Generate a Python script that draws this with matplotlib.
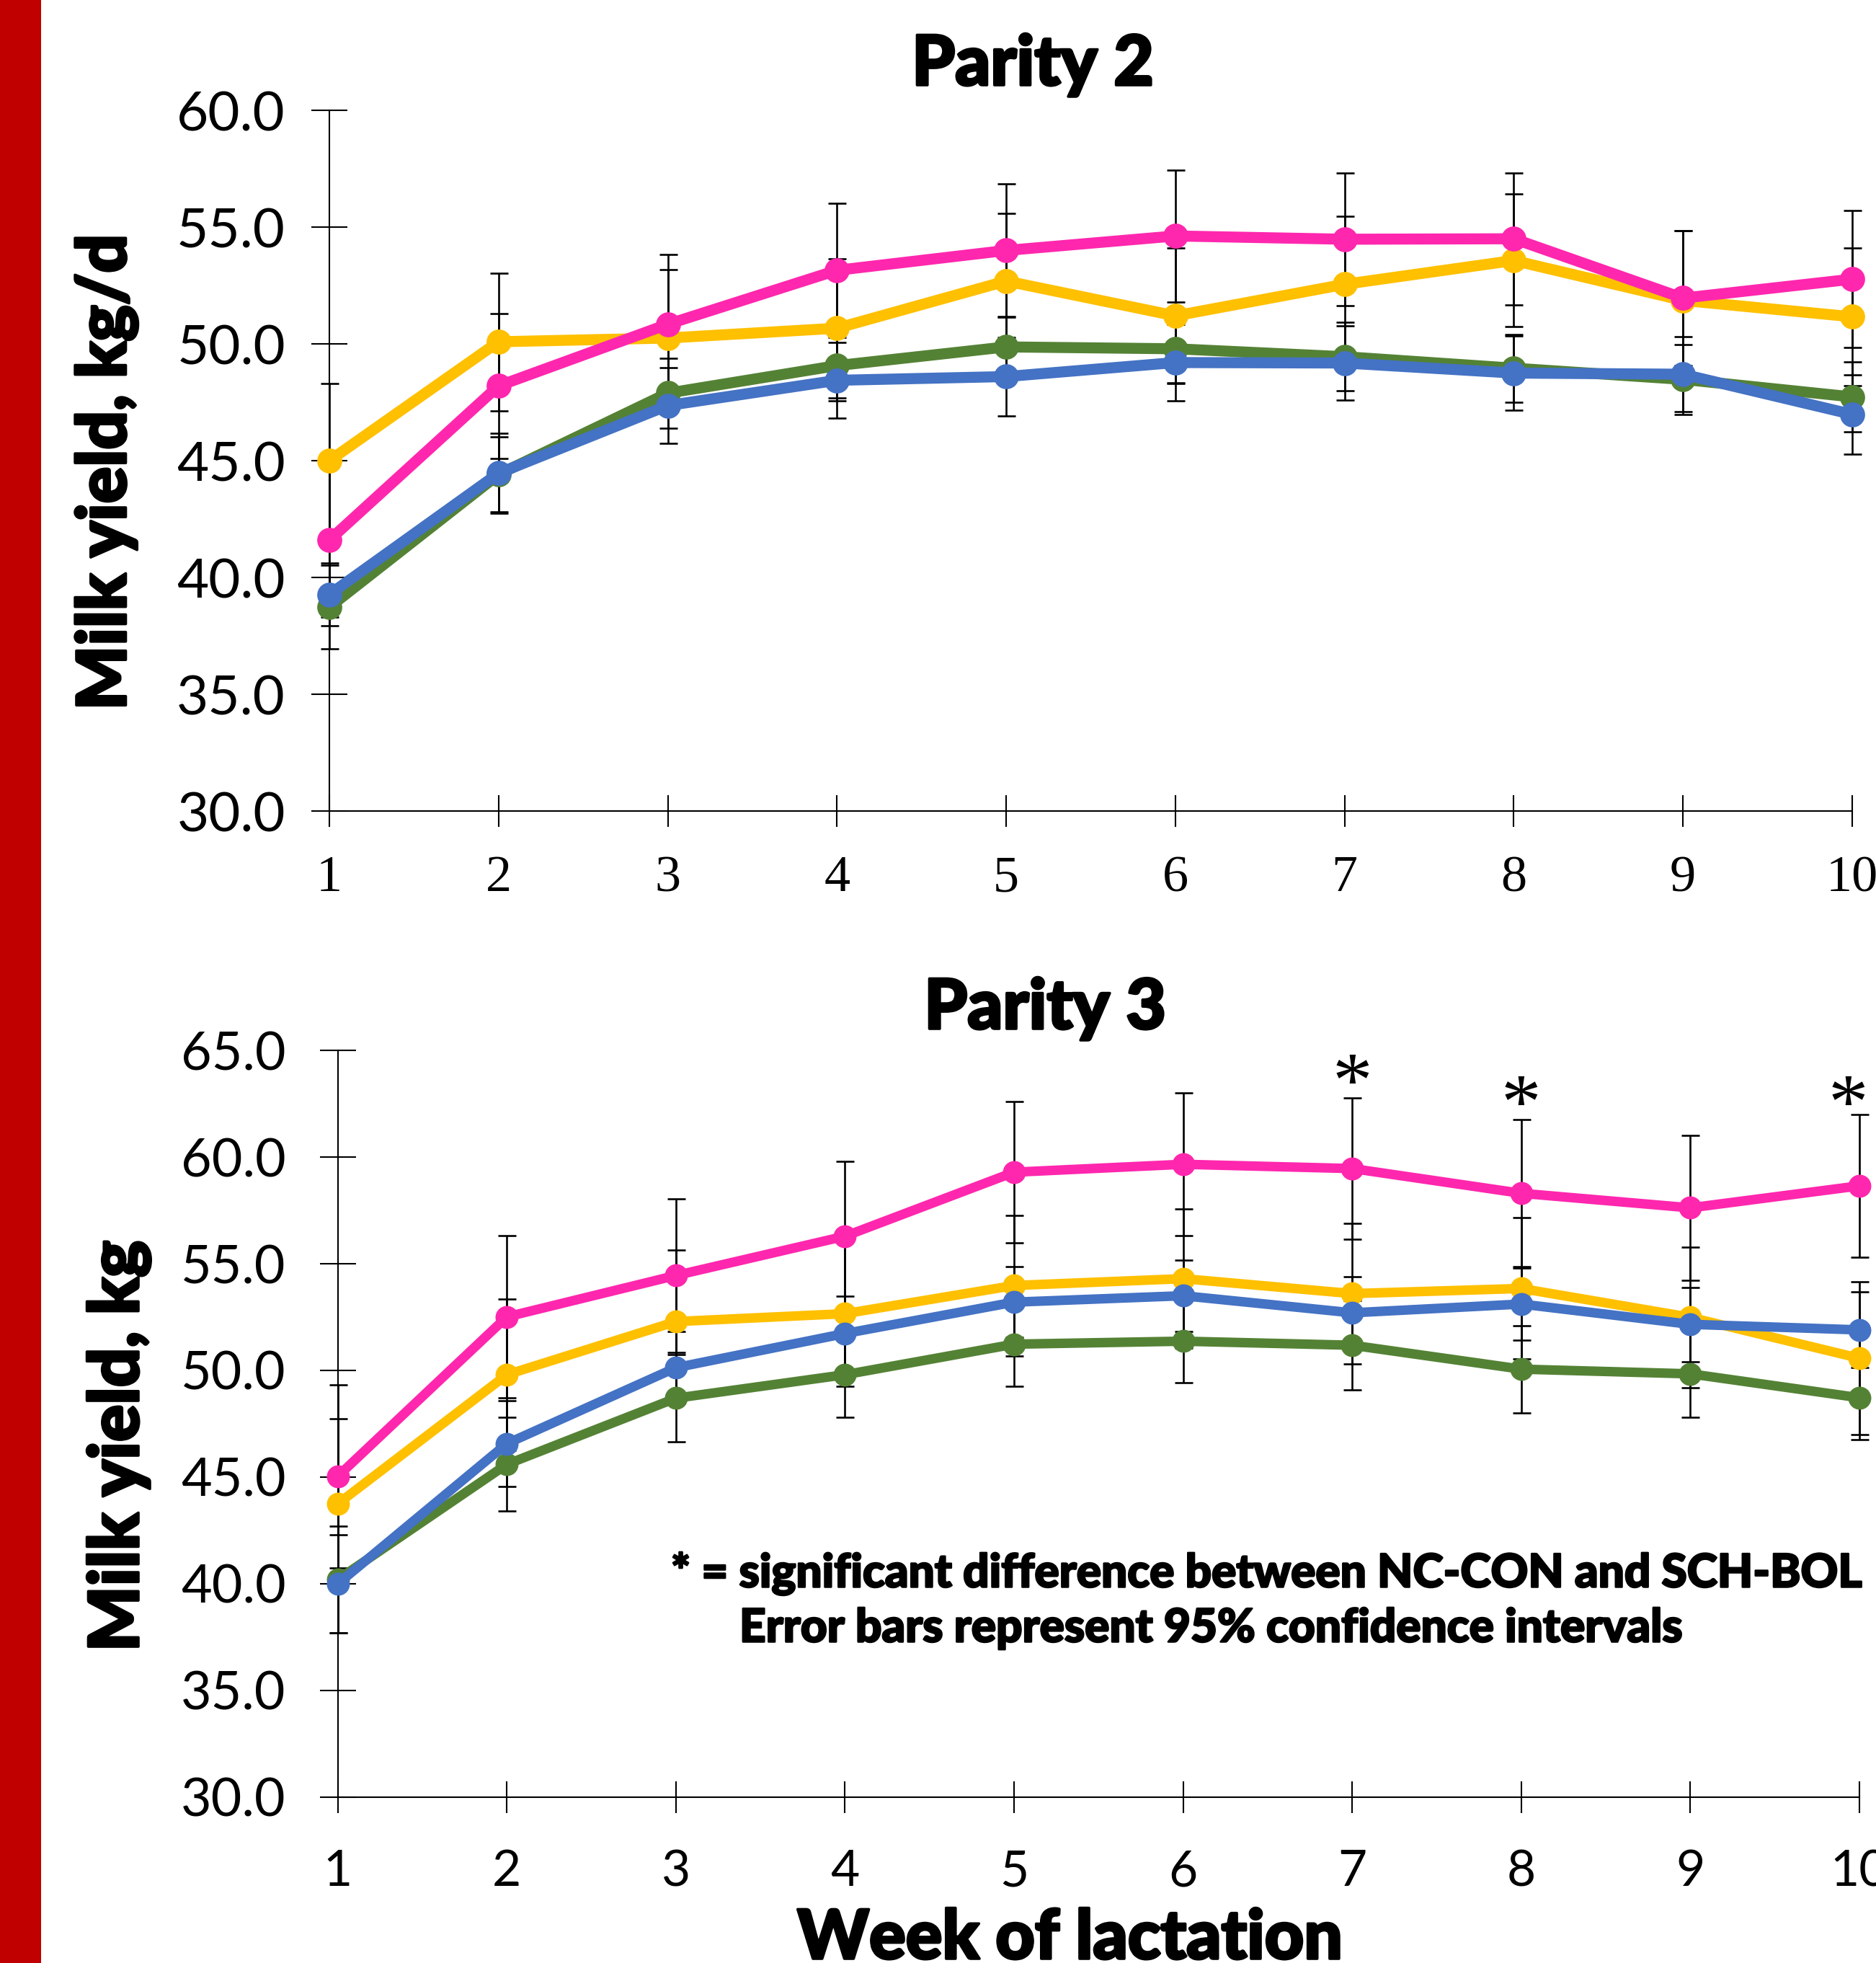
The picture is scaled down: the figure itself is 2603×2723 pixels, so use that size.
import matplotlib
matplotlib.use("Agg")
import matplotlib.pyplot as plt
from matplotlib.patches import Rectangle
from matplotlib.ticker import FormatStrFormatter
import matplotlib.patheffects as pe

# ---------------- data ----------------
weeks = [1, 2, 3, 4, 5, 6, 7, 8, 9, 10]

# Parity 2
p2_pink = [41.6, 48.2, 50.84, 53.15, 54.0, 54.62, 54.48, 54.5, 51.96, 52.77]
p2_yellow = [45.0, 50.09, 50.25, 50.67, 52.69, 51.2, 52.55, 53.57, 51.86, 51.16]
p2_green = [38.73, 44.41, 47.89, 49.07, 49.87, 49.79, 49.45, 48.96, 48.48, 47.73]
p2_blue = [39.27, 44.46, 47.36, 48.44, 48.6, 49.2, 49.18, 48.75, 48.7, 46.98]

p2_pink_ci = [3.3, 3.1, 3.0, 2.86, 2.85, 2.83, 2.83, 2.83, 2.9, 2.93]
p2_yellow_ci = [3.3, 2.95, 2.93, 2.98, 2.9, 2.9, 2.9, 2.84, 3.0, 2.94]
p2_green_ci = [1.8, 1.6, 1.5, 1.5, 1.3, 1.47, 1.47, 1.45, 1.5, 1.5]
p2_blue_ci = [1.35, 1.7, 1.63, 1.63, 1.68, 1.63, 1.6, 1.58, 1.6, 1.7]

# Parity 3
p3_pink = [45.04, 52.51, 54.45, 56.29, 59.29, 59.66, 59.46, 58.30, 57.62, 58.65]
p3_yellow = [43.75, 49.8, 52.29, 52.66, 53.98, 54.3, 53.6, 53.84, 52.49, 50.57]
p3_blue = [40.0, 46.57, 50.13, 51.73, 53.2, 53.5, 52.7, 53.11, 52.16, 51.9]
p3_green = [40.2, 45.6, 48.7, 49.8, 51.23, 51.37, 51.18, 50.06, 49.84, 48.72]

p3_pink_ci = [4.3, 3.8, 3.6, 3.5, 3.3, 3.33, 3.3, 3.45, 3.41, 3.36]
p3_yellow_ci = [4.0, 3.55, 3.35, 3.4, 3.3, 3.26, 3.3, 3.31, 3.3, 3.57]
p3_green_ci = [2.5, 2.2, 2.05, 2.0, 1.96, 1.95, 2.1, 2.05, 2.05, 1.95]
p3_blue_ci = [2.3, 2.0, 1.7, 1.75, 1.65, 1.68, 1.68, 1.7, 1.74, 1.77]

sig_weeks = [7, 8, 10]
sig_y = [64.24, 63.24, 63.24]

p2_yticks = [30, 35, 40, 45, 50, 55, 60]
p3_yticks = [30, 35, 40, 45, 50, 55, 60, 65]

PINK = "#FF27AE"
YELLOW = "#FFC000"
GREEN = "#548235"
BLUE = "#4472C4"

W, H, DPI = 2603, 2723, 100
fig = plt.figure(figsize=(W / DPI, H / DPI), dpi=DPI)
fig.patch.set_facecolor("white")

# red bar on the left
fig.patches.append(Rectangle((0, 0), 57 / W, 1, transform=fig.transFigure,
                             facecolor="#C00000", edgecolor="none", zorder=0))

def px_box(left, right, top, bottom):
    return [left / W, 1 - bottom / H, (right - left) / W, (bottom - top) / H]

ax1 = fig.add_axes(px_box(457, 2570, 153, 1125))
ax2 = fig.add_axes(px_box(468.7, 2580, 1457, 2493))

def style(ax, ylim, yticks, xfont, xsize, ysize, ypad, xpad):
    ax.set_xlim(1, 10)
    ax.set_ylim(*ylim)
    ax.set_yticks(yticks)
    ax.set_xticks(weeks)
    ax.yaxis.set_major_formatter(FormatStrFormatter("%.1f"))
    for s in ["top", "right"]:
        ax.spines[s].set_visible(False)
    for s in ["left", "bottom"]:
        ax.spines[s].set_linewidth(1.5)
        ax.spines[s].set_clip_on(False)
    ax.tick_params(axis="y", direction="inout", length=36, width=1.5, pad=ypad,
                   labelsize=ysize)
    ax.tick_params(axis="x", direction="inout", length=32, width=1.5, pad=xpad,
                   labelsize=xsize)
    for lab in ax.get_yticklabels():
        lab.set_fontfamily("Lato")
    for lab in ax.get_xticklabels():
        lab.set_fontfamily(xfont)
    ax.patch.set_alpha(0)

def draw(ax, series, lw, ms, cap):
    for vals, ci, color, z in series:
        ax.errorbar(weeks, vals, yerr=ci, fmt="none", ecolor="black",
                    elinewidth=1.9, capsize=cap, capthick=1.9, zorder=2,
                    clip_on=False)
    for vals, ci, color, z in series:
        ax.plot(weeks, vals, color=color, lw=lw, marker="o", ms=ms,
                markeredgewidth=0, zorder=z, clip_on=False,
                solid_joinstyle="round", solid_capstyle="round")

draw(ax1, [(p2_green, p2_green_ci, GREEN, 3), (p2_yellow, p2_yellow_ci, YELLOW, 4),
           (p2_blue, p2_blue_ci, BLUE, 5), (p2_pink, p2_pink_ci, PINK, 6)],
     lw=11, ms=25, cap=9)
draw(ax2, [(p3_green, p3_green_ci, GREEN, 3), (p3_yellow, p3_yellow_ci, YELLOW, 4),
           (p3_blue, p3_blue_ci, BLUE, 5), (p3_pink, p3_pink_ci, PINK, 6)],
     lw=9.5, ms=23, cap=9)

style(ax1, (30, 60), p2_yticks, "Liberation Serif", 52, 55, 26, 28)
style(ax2, (30, 65), p3_yticks, "Lato", 50, 53, 34, 36)

for wk, yv in zip(sig_weeks, sig_y):
    dx = -11 if wk == weeks[-1] else 0   # last star kept inside the figure
    ax2.annotate("*", xy=(wk, yv), xytext=(dx, -40), textcoords="offset points",
                 fontsize=80, family="Liberation Serif",
                 ha="center", va="baseline", annotation_clip=False)

stroke = [pe.withStroke(linewidth=2.6, foreground="black")]
stroke_s = [pe.withStroke(linewidth=1.8, foreground="black")]
bold = dict(family="Lato", fontweight="black", color="black")
fig.text(1433 / W, 1 - 118 / H, "Parity 2", fontsize=69, ha="center",
         va="baseline", path_effects=stroke, **bold)
fig.text(1450 / W, 1 - 1427 / H, "Parity 3", fontsize=69, ha="center",
         va="baseline", path_effects=stroke, **bold)
fig.text(148 / W, 1 - 655 / H, "Milk yield, kg/d", fontsize=68, rotation=90,
         ha="center", va="center", path_effects=stroke, **bold)
fig.text(165 / W, 1 - 2006 / H, "Milk yield, kg", fontsize=69, rotation=90,
         ha="center", va="center", path_effects=stroke, **bold)
fig.text(1485 / W, 1 - 2717 / H, "Week of lactation", fontsize=68,
         ha="center", va="baseline", path_effects=stroke, **bold)
fig.text(931 / W, 1 - 2183 / H,
         "* = significant difference between NC-CON and SCH-BOL",
         fontsize=46, ha="left", va="center", path_effects=stroke_s, **bold)
fig.text(1026 / W, 1 - 2259 / H,
         "Error bars represent 95% confidence intervals",
         fontsize=46, ha="left", va="center", path_effects=stroke_s, **bold)

fig.savefig("out.png", dpi=DPI, facecolor="white")
